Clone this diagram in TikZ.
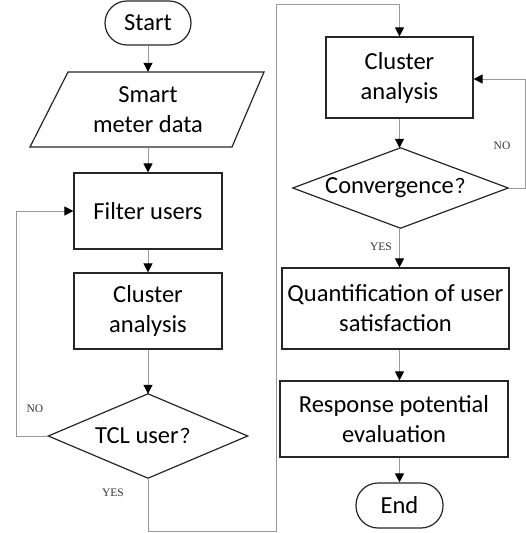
\documentclass[tikz,border=0pt]{standalone}
\usepackage{fontspec}
\setmainfont{Carlito}
\newfontfamily\lblfont{Liberation Serif}
\newfontfamily\cjkfont{Noto Sans CJK SC}
\usetikzlibrary{arrows.meta,calc}
\newcommand{\fwq}{\hspace{2pt}{\cjkfont\fontsize{20}{20}\selectfont ？}}
\begin{document}
\begin{tikzpicture}[x=1pt,y=-1pt,
  every node/.style={font=\fontsize{24.5}{30}\selectfont, inner sep=0pt, align=center},
  boxnode/.style={draw=black!85, line width=1.2pt, rectangle},
  termnode/.style={draw=black!85, line width=1.2pt, rectangle, rounded corners=22pt},
  outline/.style={draw=black!85, line width=1.2pt},
  conn/.style={draw=black!40, line width=1pt, -{Triangle[length=9pt,width=9pt,color=black]}},
  lbl/.style={font=\lblfont\fontsize{11.5}{12}\selectfont, text=black!80}]
\useasboundingbox (0,0) rectangle (526,533);
% left column
\node[termnode, minimum width=86pt, minimum height=44pt] (start) at (148,23) {Start};
\draw[outline] (68,72) -- (264,72) -- (232,147) -- (30,147) -- cycle;
\node[minimum width=160pt, minimum height=75pt] (smart) at (148,109.5) {Smart\\meter data};
\node[boxnode, minimum width=148pt, minimum height=76pt] (filter) at (148,211) {Filter users};
\node[boxnode, minimum width=148pt, minimum height=76pt] (clus1) at (148,311) {Cluster\\analysis};
\node[minimum width=199pt, minimum height=84pt] (tcl) at (148,436) {TCL user\fwq};
\draw[outline] (tcl.north) -- (tcl.east) -- (tcl.south) -- (tcl.west) -- cycle;
% right column
\node[boxnode, minimum width=147pt, minimum height=81pt] (clus2) at (399.5,77.5) {Cluster\\analysis};
\node[minimum width=215pt, minimum height=80pt] (conv) at (400.5,188) {Convergence\fwq};
\draw[outline] (conv.north) -- (conv.east) -- (conv.south) -- (conv.west) -- cycle;
\node[boxnode, minimum width=227pt, minimum height=81pt] (quant) at (395.5,308.5) {Quantification of user\\satisfaction};
\node[boxnode, minimum width=228pt, minimum height=76pt] (resp) at (394,419) {Response potential\\evaluation};
\node[termnode, minimum width=87pt, minimum height=45pt] (end) at (399.5,505.5) {End};
% helper coordinates
\coordinate (noL) at (16,436);
\coordinate (yesB) at (148,531);
\coordinate (yesT) at (276,4);
\coordinate (noR) at (525,188);
% connectors
\draw[conn] (start.south) -- (smart.north);
\draw[conn] (smart.south) -- (filter.north);
\draw[conn] (filter.south) -- (clus1.north);
\draw[conn] (clus1.south) -- (tcl.north);
\draw[conn] (tcl.west) -- (noL) |- (filter.west);
\draw[conn] (tcl.south) -- (yesB) -| (yesT) -| (clus2.north);
\draw[conn] (clus2.south) -- (clus2.south |- conv.north);
\draw[conn] (conv.east) -- (noR) |- ($(clus2.east)+(0,1.5)$);
\draw[conn] (clus2.south |- conv.south) -- (clus2.south |- quant.north);
\draw[conn] (clus2.south |- quant.south) -- (clus2.south |- resp.north);
\draw[conn] (clus2.south |- resp.south) -- (end.north);
% labels
\node[lbl] (lno1) at (35,409) {NO};
\node[lbl] (lyes1) at (113,493) {YES};
\node[lbl] (lno2) at (502,146) {NO};
\node[lbl] (lyes2) at (381,247) {YES};
\end{tikzpicture}
\end{document}
